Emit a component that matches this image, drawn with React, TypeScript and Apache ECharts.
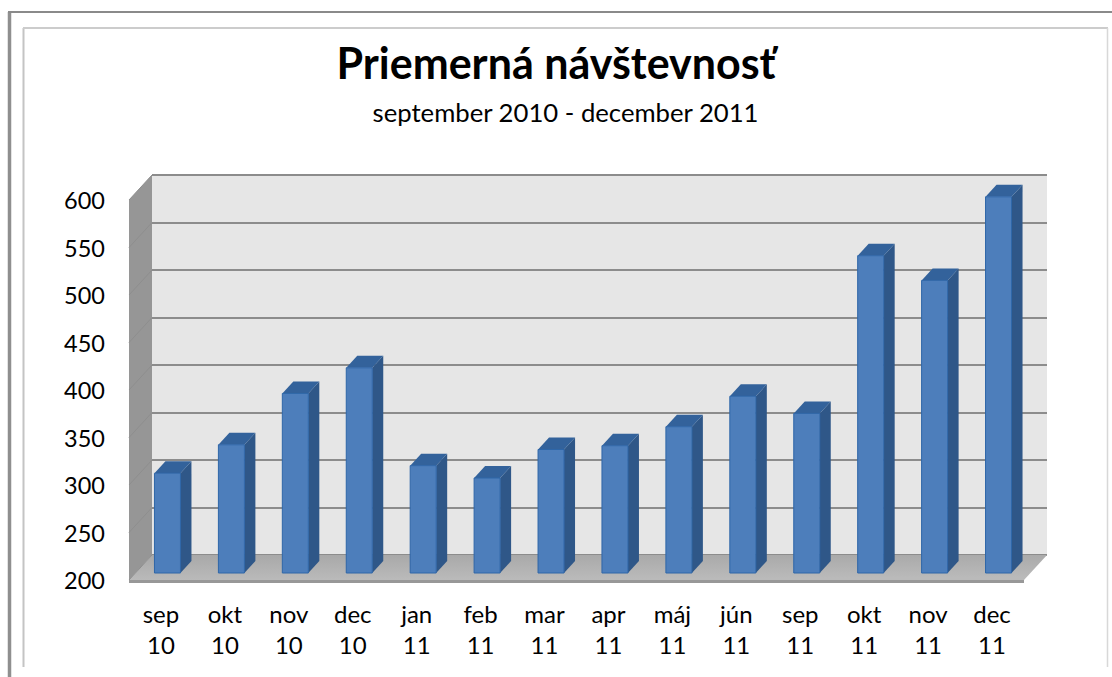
import React, { useEffect, useRef } from "react";
import * as echarts from "echarts";

const categories = ["sep\n10","okt\n10","nov\n10","dec\n10","jan\n11","feb\n11","mar\n11","apr\n11","máj\n11","jún\n11","sep\n11","okt\n11","nov\n11","dec\n11"];
const visitors = [305,335,389,416,313,300,330,334,354,386,368,534,508,596];
const yTicks = [200,250,300,350,400,450,500,550,600];
const FONT = "Lato, 'Open Sans', sans-serif";
const WALL_DX = 23, WALL_DY = 25, BAR_DX = 6.5, BAR_DY = 7, BAR_W = 26, SIDE_DX = 11, SIDE_DY = 12;

function renderWalls(params: any, api: any) {
  const c = params.coordSys;
  const x0 = c.x, x1 = c.x + c.width, y0 = c.y, y1 = c.y + c.height;
  const children: any[] = [
    { type: "polygon", shape: { points: [[x0,y0],[x0+WALL_DX,y0-WALL_DY],[x0+WALL_DX,y1-WALL_DY],[x0,y1]] }, style: { fill: "#969696" } },
    { type: "polygon", shape: { points: [[x0,y1],[x0+WALL_DX,y1-WALL_DY],[x1+WALL_DX,y1-WALL_DY],[x1,y1]] },
      style: { fill: new echarts.graphic.LinearGradient(0,0,0.12,1,[{offset:0,color:"#a8a8a8"},{offset:1,color:"#bababa"}]) } },
    { type: "rect", shape: { x: x0, y: y1, width: c.width, height: 3 }, style: { fill: "#989898" } },
    { type: "line", shape: { x1: x0+WALL_DX, y1: y0-WALL_DY, x2: x1+WALL_DX, y2: y0-WALL_DY }, style: { stroke: "#8c8c8c", lineWidth: 2 } },
  ];
  yTicks.forEach((v) => {
    const y = api.coord([0, v])[1];
    children.push({ type: "line", shape: { x1: x0, y1: y, x2: x0+WALL_DX, y2: y-WALL_DY }, style: { stroke: "#8e8e8e", lineWidth: 1 } });
  });
  return { type: "group", children };
}

function renderBar(params: any, api: any) {
  const [cx, yTop] = api.coord([api.value(0), api.value(1)]);
  const yBase = params.coordSys.y + params.coordSys.height - BAR_DY;
  const x = cx + BAR_DX - BAR_W / 2, y = yTop - BAR_DY, r = x + BAR_W;
  return {
    type: "group",
    children: [
      { type: "polygon", shape: { points: [[r,y],[r+SIDE_DX,y-SIDE_DY],[r+SIDE_DX,yBase-SIDE_DY],[r,yBase]] }, style: { fill: "#2f5788" } },
      { type: "polygon", shape: { points: [[x,y],[x+SIDE_DX,y-SIDE_DY],[r+SIDE_DX,y-SIDE_DY],[r,y]] }, style: { fill: "#33629b" } },
      { type: "rect", shape: { x, y, width: BAR_W, height: yBase - y }, style: { fill: "#4d7ebb", stroke: "#2e66a8", lineWidth: 1 } },
    ],
  };
}

export default function App() {
  const ref = useRef<HTMLDivElement>(null);
  useEffect(() => {
    document.body.style.margin = "0";
    const chart = echarts.init(ref.current!, undefined, { renderer: "svg" });
    chart.setOption({
      animation: false,
      backgroundColor: "#ffffff",
      title: [
        { text: "Priemerná návštevnosť", left: 551, top: 36, textAlign: "center", textStyle: { fontFamily: FONT, fontSize: 43, fontWeight: "bold", color: "#000" } },
        { text: "september 2010 - december 2011", left: 560.5, top: 94, textAlign: "center", textStyle: { fontFamily: FONT, fontSize: 25.7, fontWeight: "normal", color: "#000" } },
      ],
      grid: [
        { left: 129, top: 200, width: 895, height: 380, show: false },
        { left: 152, top: 175, width: 895, height: 380, show: true, backgroundColor: "#e6e6e6", borderWidth: 0 },
      ],
      xAxis: [
        { gridIndex: 0, type: "category", data: categories, axisLine: { show: false }, axisTick: { show: false },
          axisLabel: { interval: 0, margin: 18, fontFamily: FONT, fontSize: 24, lineHeight: 31, color: "#000" } },
        { gridIndex: 1, type: "category", data: categories, show: false },
      ],
      yAxis: [
        { gridIndex: 0, type: "value", min: 200, max: 600, interval: 50, axisLine: { show: false }, axisTick: { show: false }, splitLine: { show: false },
          axisLabel: { margin: 24, fontFamily: FONT, fontSize: 23.5, color: "#000" } },
        { gridIndex: 1, type: "value", min: 200, max: 600, interval: 50, axisLine: { show: false }, axisTick: { show: false }, axisLabel: { show: false },
          splitLine: { show: true, lineStyle: { color: "#8c8c8c", width: 2 } } },
      ],
      series: [
        { type: "custom", name: "walls", xAxisIndex: 0, yAxisIndex: 0, data: [[0, 200]], renderItem: renderWalls, clip: false, silent: true, z: 3 },
        { type: "custom", name: "Priemerná návštevnosť", xAxisIndex: 0, yAxisIndex: 0, encode: { x: 0, y: 1 },
          data: visitors.map((v, i) => [i, v]), renderItem: renderBar, clip: false, z: 4 },
      ],
      graphic: [
        { type: "line", silent: true, shape: { x1: 9.5, y1: 12, x2: 9.5, y2: 677 }, style: { stroke: "#8f8f8f", lineWidth: 3.5 } },
        { type: "line", silent: true, shape: { x1: 8, y1: 12, x2: 1112, y2: 12 }, style: { stroke: "#8a8a8a", lineWidth: 2 } },
        { type: "line", silent: true, shape: { x1: 23.5, y1: 28, x2: 23.5, y2: 667 }, style: { stroke: "#c4c4c4", lineWidth: 2 } },
        { type: "line", silent: true, shape: { x1: 23, y1: 28, x2: 1108, y2: 28 }, style: { stroke: "#cccccc", lineWidth: 2 } },
        { type: "line", silent: true, shape: { x1: 1107.5, y1: 28, x2: 1107.5, y2: 667 }, style: { stroke: "#d8d8d8", lineWidth: 1.5 } },
      ],
    });
    return () => chart.dispose();
  }, []);
  return <div ref={ref} style={{ position: "absolute", left: 0, top: 0, width: 1112, height: 677, overflow: "hidden" }} />;
}
